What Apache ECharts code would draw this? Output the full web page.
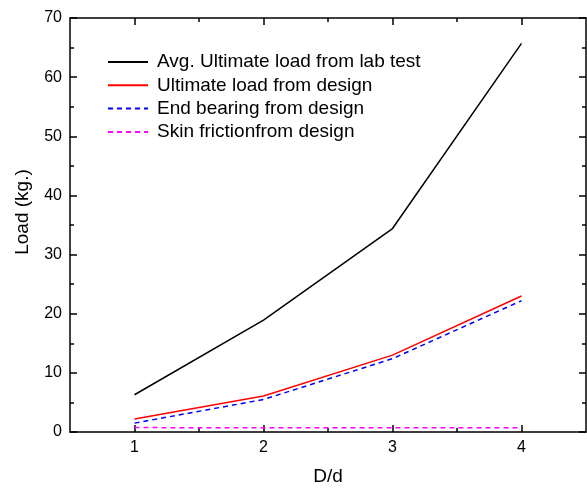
<!DOCTYPE html>
<html>
<head>
<meta charset="utf-8">
<script src="https://cdn.jsdelivr.net/npm/echarts@6/dist/echarts.min.js"></script>
<style>
  html, body { margin: 0; padding: 0; background: #fff; }
  #chart { width: 587px; height: 491px; }
</style>
</head>
<body>
<div id="chart"></div>
<script>
const dRatio = [1, 2, 3, 4];
const avgLabTest = [6.3, 18.9, 34.4, 65.7];
const ultimateDesign = [2.2, 6.1, 13.0, 23.0];
const endBearing = [1.5, 5.5, 12.4, 22.2];
const skinFriction = [0.75, 0.7, 0.7, 0.7];
const xMajor = [1, 2, 3, 4];
const xMinor = [1.5, 2.5, 3.5];

const font = 'Liberation Sans, Arial, sans-serif';
const pairs = (ys) => dRatio.map((x, i) => [x, ys[i]]);

const chart = echarts.init(document.getElementById('chart'));

const xBase = {
  type: 'value', min: 0.5, max: 4.5,
  splitLine: { show: false },
};

const lineSeries = (name, ys, color, dashed) => ({
  name,
  type: 'line',
  data: pairs(ys),
  symbol: 'none',
  animation: false,
  lineStyle: { color, width: 1.5, type: dashed ? [5, 4] : 'solid' },
  itemStyle: { color },
});

chart.setOption({
  animation: false,
  textStyle: { fontFamily: font },
  grid: { left: 70, right: 1, top: 18, bottom: 55, containLabel: false },
  legend: {
    orient: 'vertical',
    left: 102,
    top: 47,
    itemWidth: 40,
    itemHeight: 20,
    itemGap: 3.3,
    itemStyle: { opacity: 0 },
    textStyle: { fontSize: 19, color: '#000', fontFamily: font, lineHeight: 20, padding: [0, 0, 0, 4] },
    data: [
      'Avg. Ultimate load from lab test',
      'Ultimate load from design',
      'End bearing from design',
      'Skin frictionfrom design'
    ]
  },
  xAxis: [
    Object.assign({}, xBase, {
      position: 'bottom',
      name: 'D/d', nameLocation: 'middle', nameGap: 35,
      nameTextStyle: { fontSize: 19, color: '#000', fontFamily: font },
      axisLine: { show: true, lineStyle: { color: '#000', width: 1.5 } },
      axisTick: { show: true, inside: true, length: 7, customValues: xMajor, lineStyle: { color: '#000', width: 1.5 } },
      axisLabel: { show: true, customValues: xMajor, fontSize: 16, color: '#000', margin: 8, fontFamily: font },
    }),
    Object.assign({}, xBase, {
      position: 'bottom',
      axisLine: { show: false },
      axisTick: { show: true, inside: true, length: 4, customValues: xMinor, lineStyle: { color: '#000', width: 1.5 } },
      axisLabel: { show: false },
    }),
    Object.assign({}, xBase, {
      position: 'top',
      axisLine: { show: true, lineStyle: { color: '#000', width: 1.5 } },
      axisTick: { show: true, inside: true, length: 7, customValues: xMajor, lineStyle: { color: '#000', width: 1.5 } },
      axisLabel: { show: false },
    }),
    Object.assign({}, xBase, {
      position: 'top',
      axisLine: { show: false },
      axisTick: { show: true, inside: true, length: 4, customValues: xMinor, lineStyle: { color: '#000', width: 1.5 } },
      axisLabel: { show: false },
    }),
  ],
  yAxis: [
    {
      type: 'value', min: 0, max: 70, interval: 10, position: 'left',
      name: 'Load (kg.)', nameLocation: 'middle', nameGap: 38,
      nameTextStyle: { fontSize: 19, color: '#000', fontFamily: font, padding: [0, 0, 0, 26] },
      axisLine: { show: true, lineStyle: { color: '#000', width: 1.5 } },
      axisTick: { show: true, inside: true, length: 7, lineStyle: { color: '#000', width: 1.5 } },
      minorTick: { show: true, splitNumber: 2, length: 4, lineStyle: { color: '#000', width: 1.5 } },
      axisLabel: { fontSize: 16, color: '#000', margin: 8, fontFamily: font },
      splitLine: { show: false },
    },
    {
      type: 'value', min: 0, max: 70, interval: 10, position: 'right',
      axisLine: { show: true, lineStyle: { color: '#000', width: 1.5 } },
      axisTick: { show: true, inside: true, length: 7, lineStyle: { color: '#000', width: 1.5 } },
      minorTick: { show: true, splitNumber: 2, length: 4, lineStyle: { color: '#000', width: 1.5 } },
      axisLabel: { show: false },
      splitLine: { show: false },
    }
  ],
  series: [
    lineSeries('Avg. Ultimate load from lab test', avgLabTest, '#000000', false),
    lineSeries('Ultimate load from design', ultimateDesign, '#ff0000', false),
    lineSeries('End bearing from design', endBearing, '#0000ff', true),
    lineSeries('Skin frictionfrom design', skinFriction, '#ff00ff', true),
  ]
});
</script>
</body>
</html>
